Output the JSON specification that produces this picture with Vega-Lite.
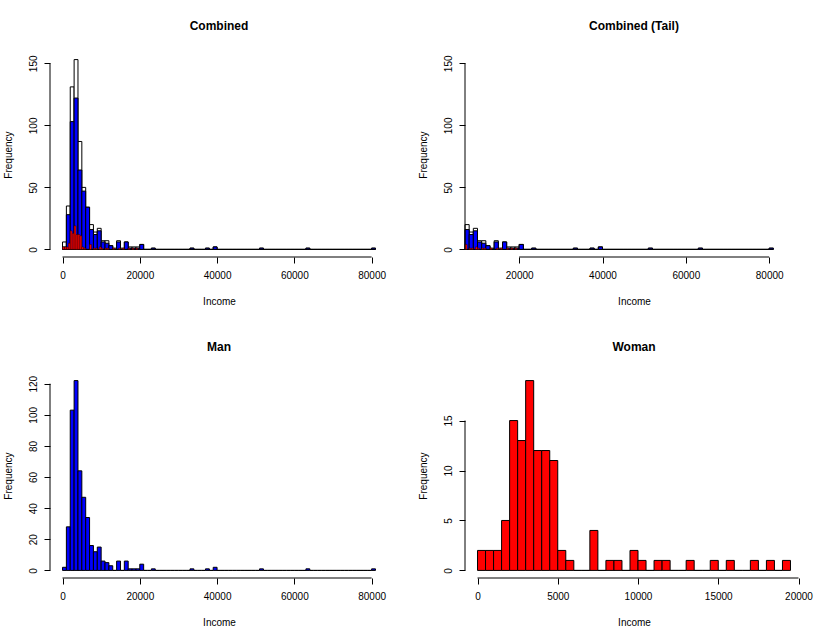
{
  "$schema": "https://vega.github.io/schema/vega-lite/v6.json",
  "background": "white",
  "padding": {"left": 3, "top": 20, "right": 5, "bottom": 5},
  "bounds": "flush",
  "columns": 2,
  "spacing": {"row": 116, "column": 77},
  "config": {
    "font": "Liberation Sans",
    "view": {"stroke": null},
    "axis": {
      "domain": false, "grid": false, "tickColor": "black", "tickSize": 6, "tickCount": 12,
      "labelFontSize": 10, "labelColor": "black", "labelFlush": false, "labelOverlap": false,
      "titleFontSize": 10, "titleFontWeight": "normal", "titleColor": "black"
    },
    "axisX": {"labelPadding": 7, "titlePadding": 16},
    "axisY": {"labelAngle": -90, "labelAlign": "center", "labelBaseline": "alphabetic", "labelPadding": 8, "titlePadding": 15},
    "title": {"fontSize": 12, "fontWeight": "bold", "baseline": "alphabetic", "offset": 19, "anchor": "middle", "color": "black"},
    "bar": {"stroke": "black", "strokeWidth": 1},
    "rule": {"color": "black", "strokeWidth": 1}
  },
  "datasets": {
    "man": [
      {"start": 0, "end": 1000, "count": 2},
      {"start": 1000, "end": 2000, "count": 28},
      {"start": 2000, "end": 3000, "count": 103},
      {"start": 3000, "end": 4000, "count": 122},
      {"start": 4000, "end": 5000, "count": 64},
      {"start": 5000, "end": 6000, "count": 47},
      {"start": 6000, "end": 7000, "count": 34},
      {"start": 7000, "end": 8000, "count": 16},
      {"start": 8000, "end": 9000, "count": 12},
      {"start": 9000, "end": 10000, "count": 15},
      {"start": 10000, "end": 11000, "count": 6},
      {"start": 11000, "end": 12000, "count": 5},
      {"start": 12000, "end": 13000, "count": 3},
      {"start": 13000, "end": 14000, "count": 0},
      {"start": 14000, "end": 15000, "count": 6},
      {"start": 15000, "end": 16000, "count": 0},
      {"start": 16000, "end": 17000, "count": 6},
      {"start": 17000, "end": 18000, "count": 1},
      {"start": 18000, "end": 19000, "count": 1},
      {"start": 19000, "end": 20000, "count": 1},
      {"start": 20000, "end": 21000, "count": 4},
      {"start": 21000, "end": 22000, "count": 0},
      {"start": 22000, "end": 23000, "count": 0},
      {"start": 23000, "end": 24000, "count": 1},
      {"start": 24000, "end": 25000, "count": 0},
      {"start": 25000, "end": 26000, "count": 0},
      {"start": 26000, "end": 27000, "count": 0},
      {"start": 27000, "end": 28000, "count": 0},
      {"start": 28000, "end": 29000, "count": 0},
      {"start": 29000, "end": 30000, "count": 0},
      {"start": 30000, "end": 31000, "count": 0},
      {"start": 31000, "end": 32000, "count": 0},
      {"start": 32000, "end": 33000, "count": 0},
      {"start": 33000, "end": 34000, "count": 1},
      {"start": 34000, "end": 35000, "count": 0},
      {"start": 35000, "end": 36000, "count": 0},
      {"start": 36000, "end": 37000, "count": 0},
      {"start": 37000, "end": 38000, "count": 1},
      {"start": 38000, "end": 39000, "count": 0},
      {"start": 39000, "end": 40000, "count": 2},
      {"start": 40000, "end": 41000, "count": 0},
      {"start": 41000, "end": 42000, "count": 0},
      {"start": 42000, "end": 43000, "count": 0},
      {"start": 43000, "end": 44000, "count": 0},
      {"start": 44000, "end": 45000, "count": 0},
      {"start": 45000, "end": 46000, "count": 0},
      {"start": 46000, "end": 47000, "count": 0},
      {"start": 47000, "end": 48000, "count": 0},
      {"start": 48000, "end": 49000, "count": 0},
      {"start": 49000, "end": 50000, "count": 0},
      {"start": 50000, "end": 51000, "count": 0},
      {"start": 51000, "end": 52000, "count": 1},
      {"start": 52000, "end": 53000, "count": 0},
      {"start": 53000, "end": 54000, "count": 0},
      {"start": 54000, "end": 55000, "count": 0},
      {"start": 55000, "end": 56000, "count": 0},
      {"start": 56000, "end": 57000, "count": 0},
      {"start": 57000, "end": 58000, "count": 0},
      {"start": 58000, "end": 59000, "count": 0},
      {"start": 59000, "end": 60000, "count": 0},
      {"start": 60000, "end": 61000, "count": 0},
      {"start": 61000, "end": 62000, "count": 0},
      {"start": 62000, "end": 63000, "count": 0},
      {"start": 63000, "end": 64000, "count": 1},
      {"start": 64000, "end": 65000, "count": 0},
      {"start": 65000, "end": 66000, "count": 0},
      {"start": 66000, "end": 67000, "count": 0},
      {"start": 67000, "end": 68000, "count": 0},
      {"start": 68000, "end": 69000, "count": 0},
      {"start": 69000, "end": 70000, "count": 0},
      {"start": 70000, "end": 71000, "count": 0},
      {"start": 71000, "end": 72000, "count": 0},
      {"start": 72000, "end": 73000, "count": 0},
      {"start": 73000, "end": 74000, "count": 0},
      {"start": 74000, "end": 75000, "count": 0},
      {"start": 75000, "end": 76000, "count": 0},
      {"start": 76000, "end": 77000, "count": 0},
      {"start": 77000, "end": 78000, "count": 0},
      {"start": 78000, "end": 79000, "count": 0},
      {"start": 79000, "end": 80000, "count": 0},
      {"start": 80000, "end": 81000, "count": 1}
    ],
    "combined": [
      {"start": 0, "end": 1000, "count": 6},
      {"start": 1000, "end": 2000, "count": 35},
      {"start": 2000, "end": 3000, "count": 131},
      {"start": 3000, "end": 4000, "count": 153},
      {"start": 4000, "end": 5000, "count": 87},
      {"start": 5000, "end": 6000, "count": 50},
      {"start": 6000, "end": 7000, "count": 34},
      {"start": 7000, "end": 8000, "count": 20},
      {"start": 8000, "end": 9000, "count": 14},
      {"start": 9000, "end": 10000, "count": 17},
      {"start": 10000, "end": 11000, "count": 7},
      {"start": 11000, "end": 12000, "count": 7},
      {"start": 12000, "end": 13000, "count": 3},
      {"start": 13000, "end": 14000, "count": 1},
      {"start": 14000, "end": 15000, "count": 7},
      {"start": 15000, "end": 16000, "count": 1},
      {"start": 16000, "end": 17000, "count": 6},
      {"start": 17000, "end": 18000, "count": 2},
      {"start": 18000, "end": 19000, "count": 2},
      {"start": 19000, "end": 20000, "count": 2},
      {"start": 20000, "end": 21000, "count": 4},
      {"start": 21000, "end": 22000, "count": 0},
      {"start": 22000, "end": 23000, "count": 0},
      {"start": 23000, "end": 24000, "count": 1},
      {"start": 24000, "end": 25000, "count": 0},
      {"start": 25000, "end": 26000, "count": 0},
      {"start": 26000, "end": 27000, "count": 0},
      {"start": 27000, "end": 28000, "count": 0},
      {"start": 28000, "end": 29000, "count": 0},
      {"start": 29000, "end": 30000, "count": 0},
      {"start": 30000, "end": 31000, "count": 0},
      {"start": 31000, "end": 32000, "count": 0},
      {"start": 32000, "end": 33000, "count": 0},
      {"start": 33000, "end": 34000, "count": 1},
      {"start": 34000, "end": 35000, "count": 0},
      {"start": 35000, "end": 36000, "count": 0},
      {"start": 36000, "end": 37000, "count": 0},
      {"start": 37000, "end": 38000, "count": 1},
      {"start": 38000, "end": 39000, "count": 0},
      {"start": 39000, "end": 40000, "count": 2},
      {"start": 40000, "end": 41000, "count": 0},
      {"start": 41000, "end": 42000, "count": 0},
      {"start": 42000, "end": 43000, "count": 0},
      {"start": 43000, "end": 44000, "count": 0},
      {"start": 44000, "end": 45000, "count": 0},
      {"start": 45000, "end": 46000, "count": 0},
      {"start": 46000, "end": 47000, "count": 0},
      {"start": 47000, "end": 48000, "count": 0},
      {"start": 48000, "end": 49000, "count": 0},
      {"start": 49000, "end": 50000, "count": 0},
      {"start": 50000, "end": 51000, "count": 0},
      {"start": 51000, "end": 52000, "count": 1},
      {"start": 52000, "end": 53000, "count": 0},
      {"start": 53000, "end": 54000, "count": 0},
      {"start": 54000, "end": 55000, "count": 0},
      {"start": 55000, "end": 56000, "count": 0},
      {"start": 56000, "end": 57000, "count": 0},
      {"start": 57000, "end": 58000, "count": 0},
      {"start": 58000, "end": 59000, "count": 0},
      {"start": 59000, "end": 60000, "count": 0},
      {"start": 60000, "end": 61000, "count": 0},
      {"start": 61000, "end": 62000, "count": 0},
      {"start": 62000, "end": 63000, "count": 0},
      {"start": 63000, "end": 64000, "count": 1},
      {"start": 64000, "end": 65000, "count": 0},
      {"start": 65000, "end": 66000, "count": 0},
      {"start": 66000, "end": 67000, "count": 0},
      {"start": 67000, "end": 68000, "count": 0},
      {"start": 68000, "end": 69000, "count": 0},
      {"start": 69000, "end": 70000, "count": 0},
      {"start": 70000, "end": 71000, "count": 0},
      {"start": 71000, "end": 72000, "count": 0},
      {"start": 72000, "end": 73000, "count": 0},
      {"start": 73000, "end": 74000, "count": 0},
      {"start": 74000, "end": 75000, "count": 0},
      {"start": 75000, "end": 76000, "count": 0},
      {"start": 76000, "end": 77000, "count": 0},
      {"start": 77000, "end": 78000, "count": 0},
      {"start": 78000, "end": 79000, "count": 0},
      {"start": 79000, "end": 80000, "count": 0},
      {"start": 80000, "end": 81000, "count": 1}
    ],
    "woman": [
      {"start": 0, "end": 500, "count": 2},
      {"start": 500, "end": 1000, "count": 2},
      {"start": 1000, "end": 1500, "count": 2},
      {"start": 1500, "end": 2000, "count": 5},
      {"start": 2000, "end": 2500, "count": 15},
      {"start": 2500, "end": 3000, "count": 13},
      {"start": 3000, "end": 3500, "count": 19},
      {"start": 3500, "end": 4000, "count": 12},
      {"start": 4000, "end": 4500, "count": 12},
      {"start": 4500, "end": 5000, "count": 11},
      {"start": 5000, "end": 5500, "count": 2},
      {"start": 5500, "end": 6000, "count": 1},
      {"start": 6000, "end": 6500, "count": 0},
      {"start": 6500, "end": 7000, "count": 0},
      {"start": 7000, "end": 7500, "count": 4},
      {"start": 7500, "end": 8000, "count": 0},
      {"start": 8000, "end": 8500, "count": 1},
      {"start": 8500, "end": 9000, "count": 1},
      {"start": 9000, "end": 9500, "count": 0},
      {"start": 9500, "end": 10000, "count": 2},
      {"start": 10000, "end": 10500, "count": 1},
      {"start": 10500, "end": 11000, "count": 0},
      {"start": 11000, "end": 11500, "count": 1},
      {"start": 11500, "end": 12000, "count": 1},
      {"start": 12000, "end": 12500, "count": 0},
      {"start": 12500, "end": 13000, "count": 0},
      {"start": 13000, "end": 13500, "count": 1},
      {"start": 13500, "end": 14000, "count": 0},
      {"start": 14000, "end": 14500, "count": 0},
      {"start": 14500, "end": 15000, "count": 1},
      {"start": 15000, "end": 15500, "count": 0},
      {"start": 15500, "end": 16000, "count": 1},
      {"start": 16000, "end": 16500, "count": 0},
      {"start": 16500, "end": 17000, "count": 0},
      {"start": 17000, "end": 17500, "count": 1},
      {"start": 17500, "end": 18000, "count": 0},
      {"start": 18000, "end": 18500, "count": 1},
      {"start": 18500, "end": 19000, "count": 0},
      {"start": 19000, "end": 19500, "count": 1}
    ]
  },
  "concat": [
    {
      "width": 338, "height": 205,
      "title": "Combined",
      "layer": [
        {
          "data": {"name": "combined"},
          "mark": {"type": "bar", "fill": "white"},
          "encoding": {
            "x": {"field": "start", "type": "quantitative", "scale": {"domain": [-3240, 84240], "nice": false, "zero": false}, "axis": {"values": [0, 20000, 40000, 60000, 80000], "format": "d", "title": "Income"}},
            "x2": {"field": "end"},
            "y": {"field": "count", "type": "quantitative", "scale": {"domain": [-6.12, 159.12], "nice": false, "zero": false}, "axis": {"values": [0, 50, 100, 150], "format": "d", "title": "Frequency"}},
            "y2": {"datum": 0}
          }
        },
        {
          "data": {"name": "man"},
          "mark": {"type": "bar", "fill": "blue"},
          "encoding": {"x": {"field": "start", "type": "quantitative"}, "x2": {"field": "end"}, "y": {"field": "count", "type": "quantitative"}, "y2": {"datum": 0}}
        },
        {
          "data": {"name": "woman"},
          "mark": {"type": "bar", "fill": "red", "strokeWidth": 0.4},
          "encoding": {"x": {"field": "start", "type": "quantitative"}, "x2": {"field": "end"}, "y": {"field": "count", "type": "quantitative"}, "y2": {"datum": 0}}
        },
        {
          "data": {"values": [{}]},
          "mark": "rule",
          "encoding": {"x": {"datum": 0}, "x2": {"datum": 80000}, "y": {"datum": -6.12}}
        },
        {
          "data": {"values": [{}]},
          "mark": "rule",
          "encoding": {"x": {"datum": -3240}, "y": {"datum": 0}, "y2": {"datum": 150}}
        }
      ]
    },
    {
      "width": 338, "height": 205,
      "title": "Combined (Tail)",
      "layer": [
        {
          "data": {"name": "combined"},
          "transform": [{"filter": "datum.start >= 7000"}],
          "mark": {"type": "bar", "fill": "white"},
          "encoding": {
            "x": {"field": "start", "type": "quantitative", "scale": {"domain": [7000, 88120], "nice": false, "zero": false}, "axis": {"values": [20000, 40000, 60000, 80000], "format": "d", "title": "Income"}},
            "x2": {"field": "end"},
            "y": {"field": "count", "type": "quantitative", "scale": {"domain": [-6.12, 159.12], "nice": false, "zero": false}, "axis": {"values": [0, 50, 100, 150], "format": "d", "title": "Frequency"}},
            "y2": {"datum": 0}
          }
        },
        {
          "data": {"name": "man"},
          "transform": [{"filter": "datum.start >= 7000"}],
          "mark": {"type": "bar", "fill": "blue"},
          "encoding": {"x": {"field": "start", "type": "quantitative"}, "x2": {"field": "end"}, "y": {"field": "count", "type": "quantitative"}, "y2": {"datum": 0}}
        },
        {
          "data": {"name": "woman"},
          "transform": [{"filter": "datum.start >= 7000"}],
          "mark": {"type": "bar", "fill": "red", "strokeWidth": 0.4},
          "encoding": {"x": {"field": "start", "type": "quantitative"}, "x2": {"field": "end"}, "y": {"field": "count", "type": "quantitative"}, "y2": {"datum": 0}}
        },
        {
          "data": {"values": [{}]},
          "mark": "rule",
          "encoding": {"x": {"datum": 20000}, "x2": {"datum": 80000}, "y": {"datum": -6.12}}
        },
        {
          "data": {"values": [{}]},
          "mark": "rule",
          "encoding": {"x": {"datum": 7000}, "y": {"datum": 0}, "y2": {"datum": 150}}
        }
      ]
    },
    {
      "width": 338, "height": 205,
      "title": "Man",
      "layer": [
        {
          "data": {"name": "man"},
          "mark": {"type": "bar", "fill": "blue"},
          "encoding": {
            "x": {"field": "start", "type": "quantitative", "scale": {"domain": [-3240, 84240], "nice": false, "zero": false}, "axis": {"values": [0, 20000, 40000, 60000, 80000], "format": "d", "title": "Income"}},
            "x2": {"field": "end"},
            "y": {"field": "count", "type": "quantitative", "scale": {"domain": [-4.88, 126.88], "nice": false, "zero": false}, "axis": {"values": [0, 20, 40, 60, 80, 100, 120], "tickCount": 12, "format": "d", "title": "Frequency"}},
            "y2": {"datum": 0}
          }
        },
        {
          "data": {"values": [{}]},
          "mark": "rule",
          "encoding": {"x": {"datum": 0}, "x2": {"datum": 80000}, "y": {"datum": -4.88}}
        },
        {
          "data": {"values": [{}]},
          "mark": "rule",
          "encoding": {"x": {"datum": -3240}, "y": {"datum": 0}, "y2": {"datum": 120}}
        }
      ]
    },
    {
      "width": 338, "height": 205,
      "title": "Woman",
      "layer": [
        {
          "data": {"name": "woman"},
          "mark": {"type": "bar", "fill": "red"},
          "encoding": {
            "x": {"field": "start", "type": "quantitative", "scale": {"domain": [-780, 20280], "nice": false, "zero": false}, "axis": {"values": [0, 5000, 10000, 15000, 20000], "format": "d", "title": "Income"}},
            "x2": {"field": "end"},
            "y": {"field": "count", "type": "quantitative", "scale": {"domain": [-0.76, 19.76], "nice": false, "zero": false}, "axis": {"values": [0, 5, 10, 15], "format": "d", "title": "Frequency"}},
            "y2": {"datum": 0}
          }
        },
        {
          "data": {"values": [{}]},
          "mark": "rule",
          "encoding": {"x": {"datum": 0}, "x2": {"datum": 20000}, "y": {"datum": -0.76}}
        },
        {
          "data": {"values": [{}]},
          "mark": "rule",
          "encoding": {"x": {"datum": -780}, "y": {"datum": 0}, "y2": {"datum": 15}}
        }
      ]
    }
  ]
}
